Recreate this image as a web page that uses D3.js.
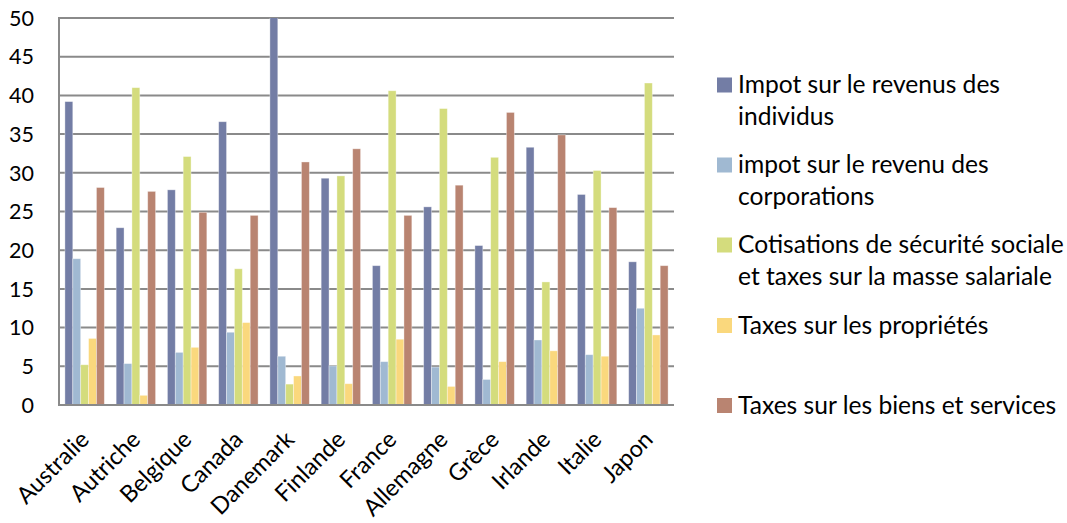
<!DOCTYPE html>
<html><head><meta charset="utf-8">
<script src="https://cdn.jsdelivr.net/npm/d3@7"></script>
<style>
html,body{margin:0;padding:0;background:#fff;}
text{font-family:Lato,"Open Sans",sans-serif;fill:#000;}
</style></head>
<body><svg id="c" width="1067" height="523"></svg>
<script>
const categories = ["Australie","Autriche","Belgique","Canada","Danemark","Finlande","France","Allemagne","Grèce","Irlande","Italie","Japon"];
const seriesNames = ["Impot sur le revenus des individus","impot sur le revenu des corporations","Cotisations de sécurité sociale et taxes sur la masse salariale","Taxes sur les propriétés","Taxes sur les biens et services"];
const legendLines = [["Impot sur le revenus des","individus"],["impot sur le revenu des","corporations"],["Cotisations de sécurité sociale","et taxes sur la masse salariale"],["Taxes sur les propriétés"],["Taxes sur les biens et services"]];
const individus    = [39.2, 22.9, 27.8, 36.6, 53.0, 29.3, 18.0, 25.6, 20.6, 33.3, 27.2, 18.5];
const corporations = [18.9, 5.35, 6.8, 9.4, 6.3, 5.05, 5.6, 4.9, 3.3, 8.4, 6.5, 12.5];
const cotisations  = [5.2, 41.0, 32.1, 17.6, 2.7, 29.6, 40.6, 38.3, 32.0, 15.9, 30.3, 41.6];
const proprietes   = [8.6, 1.25, 7.45, 10.65, 3.75, 2.75, 8.5, 2.4, 5.6, 7.0, 6.3, 9.05];
const biens        = [28.1, 27.6, 24.9, 24.5, 31.4, 33.1, 24.5, 28.4, 37.8, 34.9, 25.5, 18.0];
const yTicks = [0,5,10,15,20,25,30,35,40,45,50];
const colors = ["#737DA5","#A0B9D2","#D4DC7D","#FAD87D","#B98471"];

const allSeries = [individus, corporations, cotisations, proprietes, biens];
const svg = d3.select("#c");
const L = 59, R = 674, T = 18, B = 405;
const x0 = d3.scaleBand().domain(categories).range([L, R]).padding(0);
const x1 = d3.scaleBand().domain(d3.range(5)).range([0, x0.bandwidth()]).paddingInner(0).paddingOuter(0.75);
const y = d3.scaleLinear().domain([0, 50]).range([B, T]);

// gridlines
svg.append("g").selectAll("line").data(yTicks.filter(d=>d>0)).join("line")
  .attr("x1", L).attr("x2", R).attr("y1", d=>y(d)).attr("y2", d=>y(d))
  .attr("stroke", "#8a8a8a").attr("stroke-width", 2);

svg.append("clipPath").attr("id","clip").append("rect").attr("x",L).attr("y",T).attr("width",R-L).attr("height",B-T);

const g = svg.append("g").attr("clip-path","url(#clip)");
allSeries.forEach((vals, si) => {
  g.append("g").selectAll("rect").data(vals).join("rect")
    .attr("x", (d,i)=>x0(categories[i]) + x1(si))
    .attr("width", x1.bandwidth())
    .attr("y", d=>y(d))
    .attr("height", d=>y(0)-y(d))
    .attr("fill", colors[si])
    .attr("stroke", "rgba(255,255,255,0.45)").attr("stroke-width", 0.8);
});

// axes lines
svg.append("line").attr("x1",L).attr("x2",L).attr("y1",T-1).attr("y2",B+1).attr("stroke","#8a8a8a").attr("stroke-width",2);
svg.append("line").attr("x1",L-1).attr("x2",R).attr("y1",B).attr("y2",B).attr("stroke","#8a8a8a").attr("stroke-width",2);

// y tick labels
svg.append("g").selectAll("text").data(yTicks).join("text")
  .attr("x", 34).attr("y", d=>y(d)).attr("dy","0.36em")
  .attr("text-anchor","end").attr("font-size", 21.5).text(d=>d);

// x labels
svg.append("g").selectAll("text").data(categories).join("text")
  .attr("transform", d=>`translate(${x0(d)+x0.bandwidth()/2+6},${441}) rotate(-45)`)
  .attr("text-anchor","end").attr("font-size", 23.5).text(d=>d);

// legend
const lg = svg.append("g");
const legY = [85,165,245,325.5,405.5];
legendLines.forEach((lines, i) => {
  lg.append("rect").attr("x",717).attr("y",legY[i]-7.5).attr("width",15).attr("height",15).attr("fill",colors[i]);
  const t = lg.append("text").attr("x",738).attr("y",legY[i]+8).attr("font-size",24.6);
  lines.forEach((ln, j) => t.append("tspan").attr("x",738).attr("dy", j===0?0:31.5).text(ln));
});
</script></body></html>
